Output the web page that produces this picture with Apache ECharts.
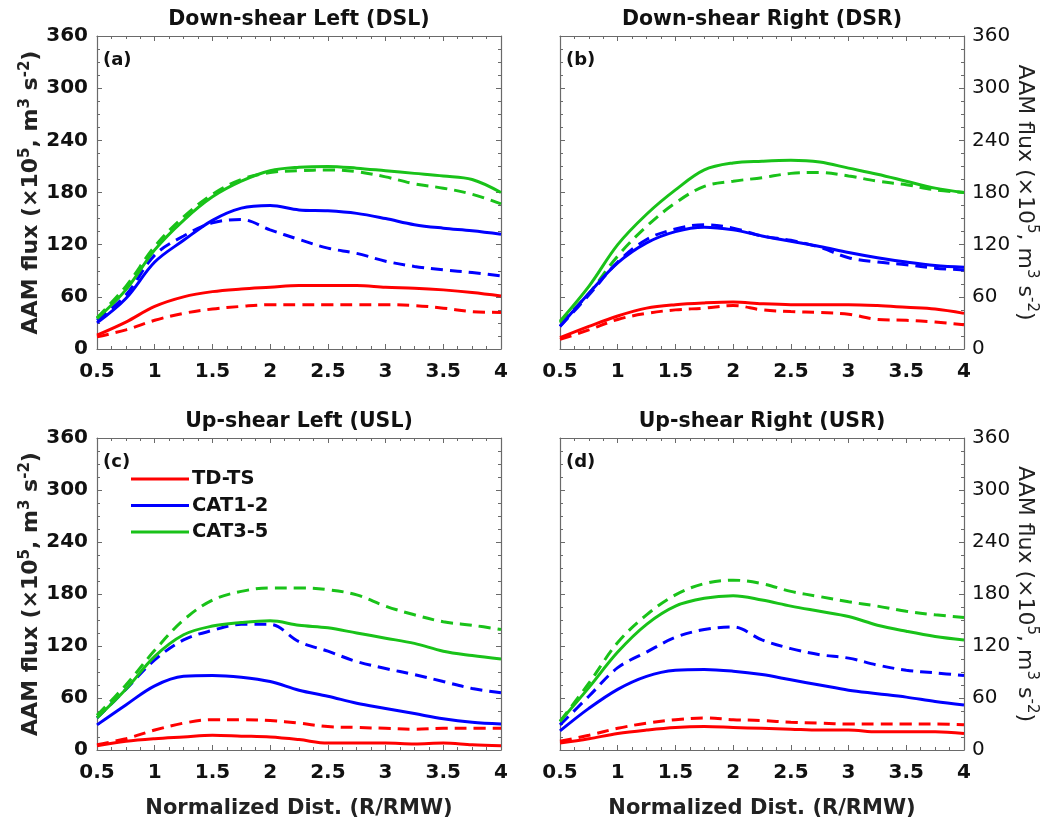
<!DOCTYPE html>
<html>
<head>
<meta charset="utf-8">
<title>AAM flux by shear quadrant</title>
<script src="https://cdn.jsdelivr.net/npm/echarts@6/dist/echarts.min.js"></script>
<style>
  html, body { margin: 0; padding: 0; background: #fff; }
  #chart { width: 1057px; height: 822px; }
</style>
</head>
<body>
<div id="chart"></div>
<script>
// normalized distance (R/RMW)
const xDist = [0.5, 0.75, 1, 1.25, 1.5, 1.75, 2, 2.25, 2.5, 2.75, 3, 3.25, 3.5, 3.75, 4];

const yTicks = [0, 60, 120, 180, 240, 300, 360];
const groups = ['TD-TS', 'CAT1-2', 'CAT3-5'];
const groupColors = ['#ff0000', '#0000ff', '#19c219'];

// (a) Down-shear Left
const dslTdTs = [16, 31, 49, 60, 66, 69, 71, 73, 73, 73, 71, 70, 68, 65, 61];
const dslTdTsDash = [14, 22, 33, 41, 46, 49, 51, 51, 51, 51, 51, 50, 47, 43, 42];
const dslCat12 = [30, 58, 100, 125, 148, 162, 165, 160, 159, 156, 150, 143, 139, 136, 132];
const dslCat12Dash = [33, 62, 108, 130, 145, 149, 137, 126, 116, 110, 101, 95, 91, 88, 84];
const dslCat35 = [35, 68, 114, 148, 175, 193, 205, 209, 210, 208, 205, 202, 199, 195, 180];
const dslCat35Dash = [36, 72, 118, 152, 178, 195, 203, 205, 206, 204, 198, 190, 185, 178, 167];

// (b) Down-shear Right
const dsrTdTs = [13, 26, 38, 47, 51, 53, 54, 52, 51, 51, 51, 50, 48, 46, 41];
const dsrTdTsDash = [11, 22, 34, 41, 45, 47, 50, 45, 43, 42, 40, 34, 33, 31, 28];
const dsrCat12 = [26, 64, 99, 122, 135, 140, 137, 130, 124, 118, 111, 105, 100, 96, 94];
const dsrCat12Dash = [26, 62, 100, 126, 138, 143, 139, 130, 125, 117, 105, 100, 97, 93, 91];
const dsrCat35 = [32, 72, 120, 155, 183, 206, 214, 216, 217, 215, 208, 201, 193, 185, 180];
const dsrCat35Dash = [30, 64, 107, 141, 168, 187, 193, 197, 202, 203, 199, 193, 189, 183, 180];

// (c) Up-shear Left
const uslTdTs = [5, 10, 13, 15, 17, 16, 15, 12, 8, 8, 8, 7, 8, 6, 5];
const uslTdTsDash = [6, 13, 23, 31, 35, 35, 34, 31, 27, 26, 25, 24, 25, 25, 25];
const uslCat12 = [29, 52, 74, 85, 86, 84, 79, 69, 62, 54, 48, 42, 36, 32, 30];
const uslCat12Dash = [37, 70, 104, 127, 138, 145, 145, 125, 114, 102, 94, 87, 79, 71, 66];
const uslCat35 = [37, 70, 108, 133, 143, 147, 149, 144, 141, 135, 129, 123, 114, 109, 105];
const uslCat35Dash = [40, 75, 115, 150, 173, 183, 187, 187, 185, 179, 166, 156, 148, 144, 139];

// (d) Up-shear Right
const usrTdTs = [8, 13, 19, 23, 26, 27, 26, 25, 24, 23, 23, 21, 21, 21, 19];
const usrTdTsDash = [10, 17, 25, 31, 35, 37, 35, 34, 32, 31, 30, 30, 30, 30, 29];
const usrCat12 = [22, 48, 70, 85, 92, 93, 91, 87, 81, 75, 69, 65, 61, 56, 52];
const usrCat12Dash = [29, 62, 95, 113, 130, 139, 142, 127, 117, 110, 106, 98, 92, 89, 86];
const usrCat35 = [33, 72, 113, 145, 166, 175, 178, 173, 166, 160, 154, 144, 137, 131, 127];
const usrCat35Dash = [33, 77, 124, 156, 179, 192, 196, 192, 183, 177, 171, 166, 160, 156, 153];

const panels = [
  { title: 'Down-shear Left (DSL)', tag: '(a)', left: 97, top: 36, height: 313, side: 'left', xName: false,
    solid: [dslTdTs, dslCat12, dslCat35], dashed: [dslTdTsDash, dslCat12Dash, dslCat35Dash] },
  { title: 'Down-shear Right (DSR)', tag: '(b)', left: 560, top: 36, height: 313, side: 'right', xName: false,
    solid: [dsrTdTs, dsrCat12, dsrCat35], dashed: [dsrTdTsDash, dsrCat12Dash, dsrCat35Dash] },
  { title: 'Up-shear Left (USL)', tag: '(c)', left: 97, top: 438, height: 312, side: 'left', xName: true,
    solid: [uslTdTs, uslCat12, uslCat35], dashed: [uslTdTsDash, uslCat12Dash, uslCat35Dash] },
  { title: 'Up-shear Right (USR)', tag: '(d)', left: 560, top: 438, height: 312, side: 'right', xName: true,
    solid: [usrTdTs, usrCat12, usrCat35], dashed: [usrTdTsDash, usrCat12Dash, usrCat35Dash] }
];

const FONT = '"DejaVu Sans", "Liberation Sans", Arial, sans-serif';
const frameColor = '#6a6a6a';
const plotWidth = 404;

const yName = '{a|AAM flux (×10}{s|5}{a|, m}{s|3}{a| s}{s|-2}{a|)}';

const tickStyle = {
  axisLine: { show: true, onZero: false, lineStyle: { color: frameColor, width: 1.2 } },
  axisTick: { show: true, inside: true, length: 5, lineStyle: { color: frameColor } },
  minorTick: { show: true, splitNumber: 4, length: 3, lineStyle: { color: frameColor } },
  splitLine: { show: false }
};

const grid = [], xAxis = [], yAxis = [], series = [], graphic = [];

panels.forEach((p, i) => {
  grid.push({ left: p.left, top: p.top, width: plotWidth, height: p.height, containLabel: false });

  // bottom x axis with labels
  xAxis.push(Object.assign({
    type: 'value', gridIndex: i, position: 'bottom', min: 0.5, max: 4, interval: 0.5,
    axisLabel: { fontFamily: FONT, fontWeight: 'bold', fontSize: 20, color: '#111', margin: 13,
      formatter: v => String(v) },
    name: p.xName ? 'Normalized Dist. (R/RMW)' : '',
    nameLocation: 'middle', nameGap: 48,
    nameTextStyle: { fontFamily: FONT, fontWeight: 'bold', fontSize: 21, color: '#222' }
  }, tickStyle));
  // top x axis, ticks only
  xAxis.push(Object.assign({
    type: 'value', gridIndex: i, position: 'top', min: 0.5, max: 4, interval: 0.5,
    axisLabel: { show: false }
  }, tickStyle));

  const isLeft = p.side === 'left';
  const w = isLeft ? 'bold' : 'normal';
  yAxis.push(Object.assign({
    type: 'value', gridIndex: i, position: p.side, min: 0, max: 360, interval: 60,
    axisLabel: { fontFamily: FONT, fontWeight: w, fontSize: 20, color: '#111', margin: isLeft ? 9 : 8 },
    name: yName,
    nameLocation: 'middle', nameRotate: isLeft ? 90 : -90, nameGap: isLeft ? 50 : 46,
    nameTextStyle: {
      rich: {
        a: { fontFamily: FONT, fontWeight: w, fontSize: 22, color: '#222', lineHeight: 28 },
        s: { fontFamily: FONT, fontWeight: w, fontSize: 15, color: '#222',
          verticalAlign: 'top', lineHeight: 28, padding: [0, 0, 10, 0] }
      }
    }
  }, tickStyle));
  yAxis.push(Object.assign({
    type: 'value', gridIndex: i, position: isLeft ? 'right' : 'left', min: 0, max: 360, interval: 60,
    axisLabel: { show: false }
  }, tickStyle));

  const xIdx = i * 2, yIdx = i * 2;
  groups.forEach((g, k) => {
    series.push({
      name: g, type: 'line', xAxisIndex: xIdx, yAxisIndex: yIdx,
      data: xDist.map((x, j) => [x, p.solid[k][j]]),
      symbol: 'none', smooth: 0.35, z: 3,
      lineStyle: { color: groupColors[k], width: 3 },
      itemStyle: { color: groupColors[k] }
    });
    series.push({
      name: g + ' (dashed)', type: 'line', xAxisIndex: xIdx, yAxisIndex: yIdx,
      data: xDist.map((x, j) => [x, p.dashed[k][j]]),
      symbol: 'none', smooth: 0.35, z: 2,
      lineStyle: { color: groupColors[k], width: 3, type: [12, 7] },
      itemStyle: { color: groupColors[k] }
    });
  });

  graphic.push({
    type: 'text', x: p.left + plotWidth / 2, y: p.top - 16,
    style: { text: p.title, fontFamily: FONT, fontWeight: 'bold', fontSize: 20.5, fill: '#111',
      align: 'center', verticalAlign: 'middle' }
  });
  graphic.push({
    type: 'text', x: p.left + 6, y: p.top + 24,
    style: { text: p.tag, fontFamily: FONT, fontWeight: 'bold', fontSize: 18, fill: '#111',
      align: 'left', verticalAlign: 'middle' }
  });
});

const chart = echarts.init(document.getElementById('chart'), null, { renderer: 'canvas' });
chart.setOption({
  animation: false,
  backgroundColor: '#fff',
  grid, xAxis, yAxis, series, graphic,
  legend: {
    data: groups.map((g, k) => ({ name: g, icon: 'rect', itemStyle: { color: groupColors[k] } })),
    orient: 'vertical',
    left: 126, top: 464,
    itemWidth: 58, itemHeight: 3, itemGap: 6.5,
    textStyle: { fontFamily: FONT, fontWeight: 'bold', fontSize: 19.5, lineHeight: 20, color: '#111', padding: [0, 0, 0, -2] },
    selectedMode: false
  }
});
</script>
</body>
</html>
